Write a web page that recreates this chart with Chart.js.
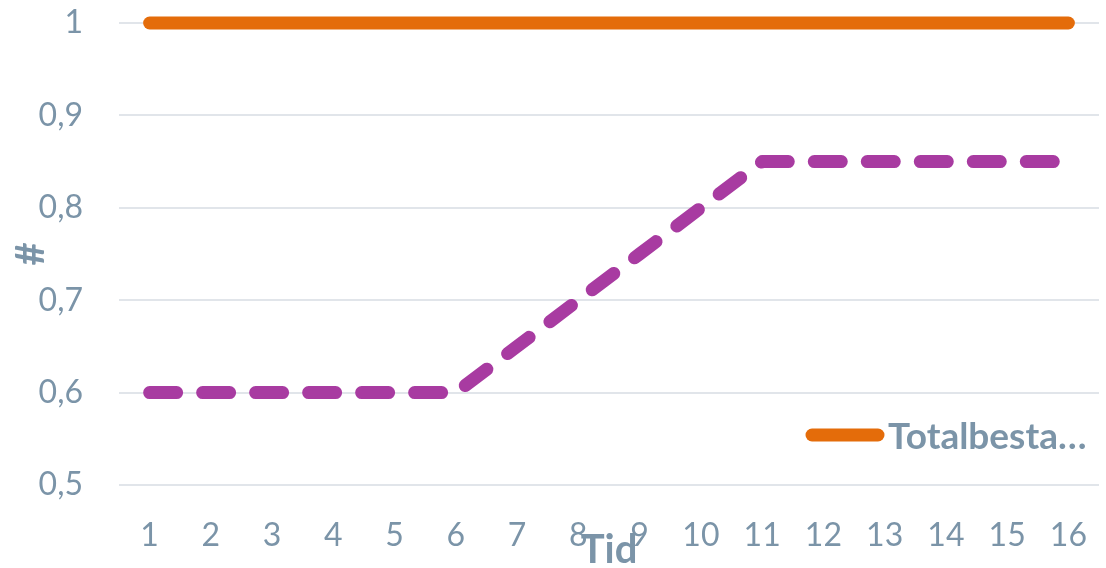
<!DOCTYPE html>
<html>
<head>
<meta charset="utf-8">
<script src="https://cdn.jsdelivr.net/npm/chart.js@4"></script>
<style>
  html, body { margin: 0; padding: 0; background: #fff; }
  #wrap { width: 1106px; height: 568px; }
</style>
</head>
<body>
<div id="wrap"><canvas id="chart"></canvas></div>
<script>
// data
const labels = ["1","2","3","4","5","6","7","8","9","10","11","12","13","14","15","16"];
const totalValues = [1,1,1,1,1,1,1,1,1,1,1,1,1,1,1,1];
const shareValues = [0.6,0.6,0.6,0.6,0.6,0.6,0.65,0.7,0.75,0.8,0.85,0.85,0.85,0.85,0.85,0.85];
const totalLabel = "Totalbesta…";
const shareLabel = "Andel";

const textColor = "#7b94a8";
const fontFamily = "Lato, 'Open Sans', sans-serif";

// legend drawn inside the plot, like the original
const insideLegend = {
    id: "insideLegend",
    afterDraw(chart) {
        const ctx = chart.ctx;
        const ds = chart.data.datasets[0];
        ctx.save();
        ctx.strokeStyle = ds.borderColor;
        ctx.lineWidth = 13;
        ctx.lineCap = "round";
        ctx.beginPath();
        ctx.moveTo(812, 435);
        ctx.lineTo(878, 435);
        ctx.stroke();
        ctx.fillStyle = textColor;
        ctx.font = "bold 37px " + fontFamily;
        ctx.textBaseline = "middle";
        ctx.fillText(ds.label, 888, 437);
        ctx.restore();
    }
};

new Chart(document.getElementById("chart").getContext("2d"), {
    type: "line",
    data: {
        labels: labels,
        datasets: [
            {
                label: totalLabel,
                data: totalValues,
                borderColor: "#e46c0a",
                borderWidth: 13,
                borderCapStyle: "round",
                pointRadius: 0,
                clip: false,
                tension: 0
            },
            {
                label: shareLabel,
                data: shareValues,
                borderColor: "#a83ba1",
                borderWidth: 13,
                borderCapStyle: "round",
                borderJoinStyle: "round",
                borderDash: [27, 26],
                pointRadius: 0,
                clip: false,
                tension: 0
            }
        ]
    },
    options: {
        responsive: true,
        maintainAspectRatio: false,
        animation: false,
        layout: { padding: { top: 23, right: 7, left: 0, bottom: 0 } },
        plugins: {
            legend: { display: false },
            tooltip: { enabled: false }
        },
        scales: {
            x: {
                offset: true,
                grid: { display: false, drawTicks: false },
                border: { display: false },
                ticks: {
                    color: textColor,
                    font: { family: fontFamily, size: 32 },
                    padding: 31,
                    maxRotation: 0
                },
                title: {
                    display: true,
                    text: "Tid",
                    color: textColor,
                    font: { family: fontFamily, size: 40, weight: "bold" },
                    padding: { top: 0, bottom: -6 }
                },
                afterFit(scale) {
                    scale.height = 83;
                    scale.paddingLeft = 0;
                    scale.paddingRight = 0;
                }
            },
            y: {
                min: 0.5,
                max: 1,
                grid: { color: "#e1e5ea", lineWidth: 2, drawTicks: false },
                border: { display: false },
                ticks: {
                    stepSize: 0.1,
                    color: textColor,
                    font: { family: fontFamily, size: 32 },
                    padding: 36,
                    callback: v => String(Math.round(v * 10) / 10).replace(".", ",")
                },
                title: {
                    display: true,
                    text: "#",
                    color: textColor,
                    font: { family: fontFamily, size: 40, weight: "bold" },
                    padding: { top: 7, bottom: 0 }
                },
                afterFit(scale) {
                    scale.width = 119;
                    scale.paddingTop = 0;
                    scale.paddingBottom = 0;
                }
            }
        }
    },
    plugins: [insideLegend]
});
</script>
</body>
</html>
